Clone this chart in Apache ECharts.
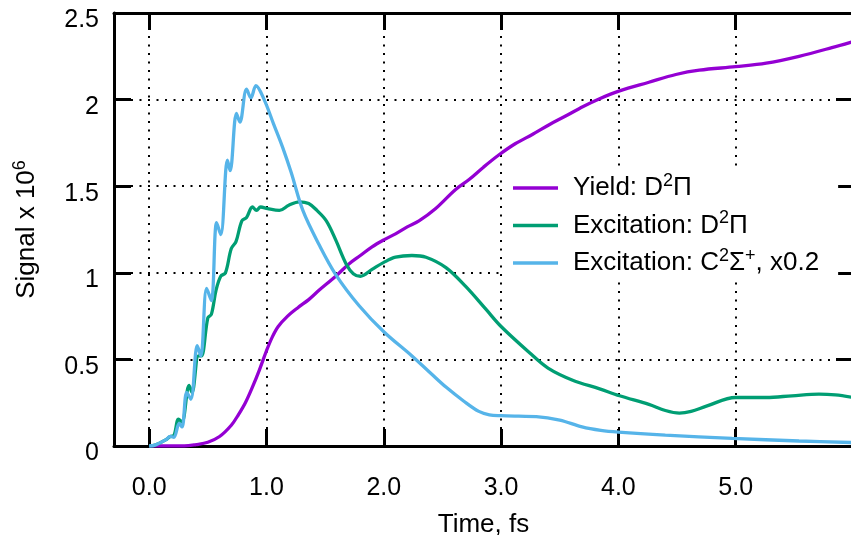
<!DOCTYPE html>
<html>
<head>
<meta charset="utf-8">
<script src="https://cdn.jsdelivr.net/npm/echarts@6/dist/echarts.min.js"></script>
<style>html,body{margin:0;padding:0;background:#fff}#c{width:851px;height:535px}</style>
</head>
<body>
<div id="c"></div>
<script>
// ---- data ----
const xTickLabels = [0, 1, 2, 3, 4, 5];
const xTicks = [0, 1, 2, 3, 4, 5, 6];
const seriesNames = ['Yield: D2Π', 'Excitation: D2Π', 'Excitation: C2Σ+, x0.2'];
const legendRich = ['Yield: D{s|2}Π', 'Excitation: D{s|2}Π', 'Excitation: C{s|2}Σ{s|+}, x0.2'];

const yieldD = [[0,0],[0.3,0],[0.4,0.008],[0.5,0.022],[0.6,0.055],[0.7,0.12],[0.76,0.18],[0.82,0.25],[0.88,0.34],[0.94,0.44],[1.0,0.55],[1.05,0.63],[1.1,0.69],[1.18,0.75],[1.27,0.80],[1.36,0.845],[1.45,0.90],[1.59,0.98],[1.7,1.05],[1.8,1.10],[1.9,1.15],[2.0,1.19],[2.1,1.225],[2.2,1.265],[2.3,1.30],[2.44,1.37],[2.61,1.48],[2.73,1.54],[2.85,1.61],[2.98,1.68],[3.12,1.745],[3.27,1.80],[3.41,1.855],[3.55,1.905],[3.7,1.96],[3.84,2.005],[4.01,2.05],[4.26,2.10],[4.49,2.145],[4.69,2.17],[5.0,2.19],[5.26,2.21],[5.54,2.25],[5.82,2.30],[6.0,2.335]];

const excD = [[0,0],[0.05,0.005],[0.14,0.035],[0.18,0.055],[0.21,0.06],[0.25,0.155],[0.28,0.14],[0.34,0.35],[0.365,0.31],[0.42,0.52],[0.445,0.52],[0.50,0.74],[0.53,0.76],[0.57,0.90],[0.61,0.98],[0.65,1.0],[0.70,1.14],[0.74,1.18],[0.79,1.30],[0.83,1.32],[0.88,1.38],[0.915,1.36],[0.95,1.38],[1.01,1.37],[1.11,1.36],[1.19,1.39],[1.28,1.41],[1.36,1.40],[1.43,1.36],[1.51,1.30],[1.59,1.19],[1.68,1.05],[1.74,0.995],[1.80,0.98],[1.90,1.02],[2.0,1.06],[2.10,1.09],[2.24,1.10],[2.36,1.09],[2.53,1.03],[2.70,0.92],[2.87,0.79],[3.0,0.69],[3.24,0.54],[3.4,0.45],[3.61,0.38],[3.84,0.33],[4.01,0.29],[4.26,0.24],[4.4,0.205],[4.52,0.19],[4.62,0.20],[4.75,0.23],[5.0,0.28],[5.26,0.28],[5.48,0.29],[5.71,0.30],[5.85,0.295],[6.0,0.28]];

const excC = [[0,0],[0.05,0.005],[0.14,0.035],[0.18,0.055],[0.21,0.05],[0.256,0.13],[0.28,0.11],[0.32,0.31],[0.355,0.27],[0.41,0.58],[0.44,0.52],[0.49,0.91],[0.53,0.84],[0.575,1.29],[0.61,1.22],[0.667,1.65],[0.69,1.59],[0.744,1.92],[0.773,1.87],[0.83,2.06],[0.867,2.01],[0.91,2.08],[0.98,2.0],[1.06,1.86],[1.14,1.72],[1.21,1.58],[1.31,1.36],[1.45,1.16],[1.59,0.99],[1.79,0.81],[2.0,0.66],[2.24,0.52],[2.4,0.42],[2.53,0.34],[2.68,0.26],[2.81,0.20],[2.9,0.18],[3.0,0.175],[3.15,0.172],[3.3,0.17],[3.5,0.15],[3.69,0.11],[3.85,0.09],[4.0,0.08],[4.4,0.063],[4.97,0.044],[5.54,0.029],[6.0,0.02]];

const colors = ['#9400d3', '#009e73', '#56b4e9'];

// ---- font choice ----
function hasFont(name) {
  const c = document.createElement('canvas').getContext('2d');
  const t = 'Time, fs 0.5 Excitation';
  c.font = '30px monospace'; const a = c.measureText(t).width;
  c.font = '30px "' + name + '", monospace'; const b = c.measureText(t).width;
  return Math.abs(a - b) > 0.5;
}
const NARROW = hasFont('Liberation Sans Narrow');
const FAM = NARROW ? '"Liberation Sans Narrow", "Liberation Sans", sans-serif' : '"Liberation Sans", Arial, sans-serif';
const K = NARROW ? 1 : 0.85;
const TICK_FS = Math.round(29 * K);
const TEXT_FS = Math.round(30 * K);
const SUP_FS = Math.round(TEXT_FS * 0.68);

const supStyle = { fontSize: SUP_FS, fontFamily: FAM, color: '#000', verticalAlign: 'top', lineHeight: SUP_FS };
const dotted = { color: '#000', width: 2, type: [2, 6.5] };
const LW = 3.3;
const LH = 32;

const chart = echarts.init(document.getElementById('c'), null, { renderer: 'canvas' });

const baseX = { type: 'value', min: -0.3, max: 6 };

const option = {
  animation: false,
  backgroundColor: '#fff',
  grid: { left: 114, top: 13, width: 739, height: 433, containLabel: false, outerBoundsMode: 'none' },
  legend: {
    orient: 'vertical', left: 502, top: 170,
    data: seriesNames,
    itemWidth: 45, itemHeight: LH, itemGap: 37.5 - LH,
    padding: [2, 19, 1, 11],
    backgroundColor: '#fff',
    icon: 'path://M0,14.35 L45,14.35 L45,17.65 L0,17.65 Z',
    formatter: n => legendRich[seriesNames.indexOf(n)],
    textStyle: {
      fontFamily: FAM, fontSize: TEXT_FS, color: '#000', lineHeight: LH, padding: [0, 0, 0, 10],
      rich: { s: supStyle }
    },
    selectedMode: false
  },
  xAxis: [
    Object.assign({}, baseX, {
      position: 'bottom',
      name: 'Time, fs', nameLocation: 'middle', nameGap: 64,
      nameTextStyle: { fontFamily: FAM, fontSize: TEXT_FS, color: '#000', lineHeight: 30 },
      axisLine: { show: true, onZero: false, lineStyle: { color: '#000', width: 3 } },
      axisTick: { show: true, inside: true, length: 17, customValues: xTicks, lineStyle: { color: '#000', width: 3 } },
      axisLabel: { show: true, customValues: xTickLabels, margin: 30, formatter: v => Number(v).toFixed(1),
                   fontFamily: FAM, fontSize: TICK_FS, color: '#000' },
      splitLine: { show: false }
    }),
    Object.assign({}, baseX, {
      position: 'top',
      axisLine: { show: true, onZero: false, lineStyle: { color: '#000', width: 3 } },
      axisTick: { show: true, inside: true, length: 17, customValues: xTicks, lineStyle: { color: '#000', width: 3 } },
      axisLabel: { show: false },
      splitLine: { show: false }
    })
  ],
  yAxis: [
    {
      type: 'value', min: 0, max: 2.5, interval: 0.5, position: 'left',
      name: 'Signal x 10{s|6}', nameLocation: 'middle', nameGap: 71,
      nameTextStyle: { fontFamily: FAM, fontSize: TEXT_FS, color: '#000', lineHeight: LH, rich: { s: supStyle } },
      axisLine: { show: true, onZero: false, lineStyle: { color: '#000', width: 3 } },
      axisTick: { show: true, inside: true, length: 17, lineStyle: { color: '#000', width: 3 } },
      axisLabel: { margin: 15, formatter: v => '{a|' + v + '}',
                   rich: { a: { fontFamily: FAM, fontSize: TICK_FS, color: '#000', padding: [15, 0, 0, 0] } } },
      splitLine: { show: true, lineStyle: dotted }
    },
    {
      type: 'value', min: 0, max: 2.5, interval: 0.5, position: 'right',
      axisLine: { show: true, onZero: false, lineStyle: { color: '#000', width: 3 } },
      axisTick: { show: true, inside: true, length: 17, lineStyle: { color: '#000', width: 3 } },
      axisLabel: { show: false },
      splitLine: { show: false }
    }
  ],
  series: [
    {
      name: seriesNames[0], type: 'line', data: yieldD, showSymbol: false, smooth: 0.35,
      lineStyle: { color: colors[0], width: LW }, itemStyle: { color: colors[0] }, z: 3,
      markLine: {
        silent: true, z: 1, symbol: ['none', 'none'], label: { show: false }, animation: false,
        lineStyle: dotted, emphasis: { disabled: true },
        data: xTickLabels.map(v => ({ xAxis: v }))
      }
    },
    {
      name: seriesNames[1], type: 'line', data: excD, showSymbol: false, smooth: 0.35,
      lineStyle: { color: colors[1], width: LW }, itemStyle: { color: colors[1] }, z: 3
    },
    {
      name: seriesNames[2], type: 'line', data: excC, showSymbol: false, smooth: 0.35,
      lineStyle: { color: colors[2], width: LW }, itemStyle: { color: colors[2] }, z: 3
    }
  ]
};
chart.setOption(option);
</script>
</body>
</html>
